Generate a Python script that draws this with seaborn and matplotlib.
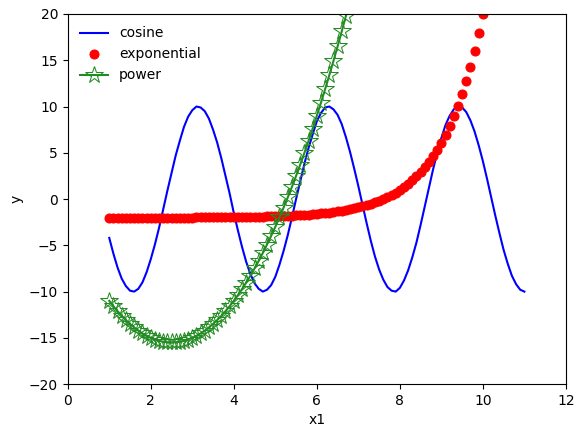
import matplotlib
matplotlib.use('Agg')
import matplotlib.pyplot as plt
import seaborn as sns

# sample grid (step 0.1)
x_cos = [round(1 + 0.1 * i, 1) for i in range(101)]
y_cos = [-4.2, -5.9, -7.4, -8.6, -9.4, -9.9, -10.0, -9.7, -9.0, -7.9,
         -6.5, -4.9, -3.1, -1.1, 0.9, 2.8, 4.7, 6.3, 7.8, 8.9,
         9.6, 10.0, 9.9, 9.5, 8.7, 7.5, 6.1, 4.4, 2.5, 0.6,
         -1.5, -3.4, -5.2, -6.8, -8.1, -9.1, -9.7, -10.0, -9.8, -9.3,
         -8.4, -7.1, -5.6, -3.9, -2.0, 0.0, 1.9, 3.8, 5.5, 7.0,
         8.4, 9.3, 9.9, 10.0, 9.7, 9.1, 8.1, 6.7, 5.1, 3.3,
         1.4, -0.6, -2.6, -4.5, -6.2, -7.6, -8.7, -9.5, -9.9, -10.0,
         -9.6, -8.8, -7.7, -6.3, -4.7, -2.8, -0.8, 1.2, 3.2, 5.0,
         6.6, 8.0, 9.0, 9.7, 10.0, 9.9, 9.4, 8.5, 7.3, 5.8,
         4.1, 2.2, 0.2, -1.8, -3.7, -5.5, -7.0, -8.3, -9.2, -9.8,
         -10.0]

x_exp = [round(1 + 0.1 * i, 1) for i in range(91)]
y_exp = [-2.1] * 21 + [
    -1.98, -1.98, -1.97, -1.97, -1.97, -1.97, -1.96, -1.96, -1.95,
    -1.95, -1.94, -1.93, -1.93, -1.92, -1.91, -1.90, -1.89, -1.88, -1.87,
    -1.85, -1.84, -1.82, -1.80, -1.78, -1.76, -1.73, -1.70, -1.67, -1.63,
    -1.60, -1.55, -1.51, -1.46, -1.40, -1.34, -1.26, -1.19, -1.10, -1.01,
    -0.90, -0.79, -0.66, -0.52, -0.36, -0.19, 0.00, 0.21, 0.44, 0.70,
    0.98, 1.29, 1.64, 2.02, 2.45, 2.91, 3.43, 4.00, 4.63, 5.33,
    6.10, 6.96, 7.90, 8.94, 10.09, 11.36, 12.77, 14.32, 16.03, 17.93,
    20.03]

x_pow = [round(1 + 0.1 * i, 1) for i in range(59)]
y_pow = [-11.0, -11.58, -12.12, -12.62, -13.08, -13.5, -13.88, -14.22, -14.52, -14.78,
         -15.0, -15.18, -15.32, -15.42, -15.48, -15.5, -15.48, -15.42, -15.32, -15.18,
         -15.0, -14.78, -14.52, -14.22, -13.88, -13.5, -13.08, -12.62, -12.12, -11.58,
         -11.0, -10.38, -9.72, -9.02, -8.28, -7.5, -6.68, -5.82, -4.92, -3.98,
         -3.0, -1.98, -0.92, 0.18, 1.32, 2.5, 3.72, 4.98, 6.28, 7.62,
         9.0, 10.42, 11.88, 13.38, 14.92, 16.5, 18.12, 19.78, 21.48]

fig, ax = plt.subplots(figsize=(5.84, 4.37), dpi=100)
fig.subplots_adjust(left=0.116, right=0.969, top=0.968, bottom=0.121)

sns.lineplot(x=x_cos, y=y_cos, color='blue', label='cosine', ax=ax)
sns.lineplot(x=x_exp, y=y_exp, color='red', linestyle='none', marker='o',
             markersize=6.5, markeredgecolor='red', label='exponential', ax=ax)
sns.lineplot(x=x_pow, y=y_pow, color='forestgreen', marker='*', markersize=13,
             markerfacecolor='none', markeredgecolor='forestgreen',
             label='power', ax=ax)

ax.set_xlim(0, 12)
ax.set_ylim(-20, 20)
ax.set_xlabel('x1')
ax.set_ylabel('y')
ax.legend(loc='upper left', frameon=False)

plt.savefig('out.png', dpi=100)
